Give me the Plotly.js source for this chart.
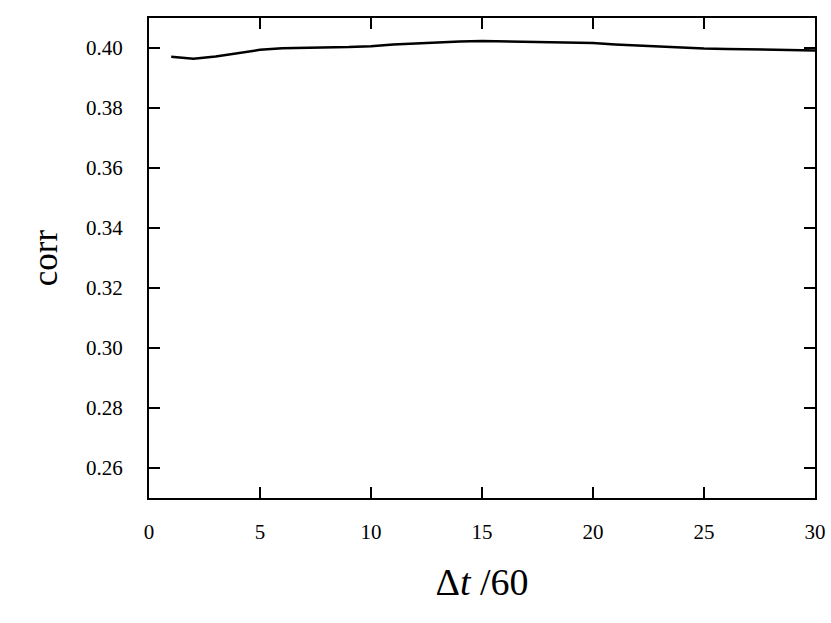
<!DOCTYPE html>
<html>
<head>
<meta charset="utf-8">
<script src="https://cdn.plot.ly/plotly-3.0.1.min.js"></script>
<style>
  html, body { margin: 0; padding: 0; background: #fff; }
  #chart { width: 831px; height: 623px; }
</style>
</head>
<body>
<div id="chart"></div>
<script>
const lagMinutes = [1, 2, 3, 4, 5, 6, 7, 8, 9, 10, 11, 12, 13, 14, 15,
  16, 17, 18, 19, 20, 21, 22, 23, 24, 25, 26, 27, 28, 29, 30];
const corrValues = [0.3971, 0.3964, 0.3972, 0.3982, 0.3994, 0.3999, 0.4000, 0.4002, 0.4003, 0.4006,
  0.4012, 0.4015, 0.4019, 0.4022, 0.4023, 0.4022, 0.4021, 0.4020, 0.4019, 0.4017,
  0.4012, 0.4008, 0.4006, 0.4002, 0.3998, 0.3997, 0.3996, 0.3993, 0.3992, 0.3992];
const yTicks = [0.26, 0.28, 0.30, 0.32, 0.34, 0.36, 0.38, 0.40];
const xTicks = [0, 5, 10, 15, 20, 25, 30];

const serif = "Liberation Serif, Times New Roman, serif";

const trace = {
  x: lagMinutes,
  y: corrValues,
  type: 'scatter',
  mode: 'lines',
  line: { color: '#000', width: 2.5 },
  showlegend: false,
  hoverinfo: 'x+y'
};

const axisCommon = {
  showline: true,
  linecolor: '#000',
  linewidth: 2,
  mirror: 'ticks',
  ticks: 'inside',
  ticklen: 11,
  tickwidth: 2,
  tickcolor: '#000',
  showgrid: false,
  zeroline: false,
  tickfont: { family: serif, size: 21, color: '#000' }
};

Plotly.newPlot('chart', [trace], {
  width: 831,
  height: 623,
  paper_bgcolor: '#fff',
  plot_bgcolor: '#fff',
  margin: { l: 149, r: 16, t: 18, b: 125 },
  xaxis: Object.assign({}, axisCommon, {
    range: [0, 30],
    tickvals: xTicks,
    ticktext: xTicks.map(String),
    ticklabelstandoff: 14,
    title: { text: 'Δ<i>t</i> /60', font: { family: serif, size: 38, color: '#000' }, standoff: 25 }
  }),
  yaxis: Object.assign({}, axisCommon, {
    range: [0.25, 0.41],
    tickvals: yTicks,
    ticktext: yTicks.map(v => v.toFixed(2)),
    ticklabelstandoff: 20,
    title: { text: 'corr', font: { family: serif, size: 35, color: '#000' }, standoff: 18 }
  })
}, { displayModeBar: false, staticPlot: true });
</script>
</body>
</html>
